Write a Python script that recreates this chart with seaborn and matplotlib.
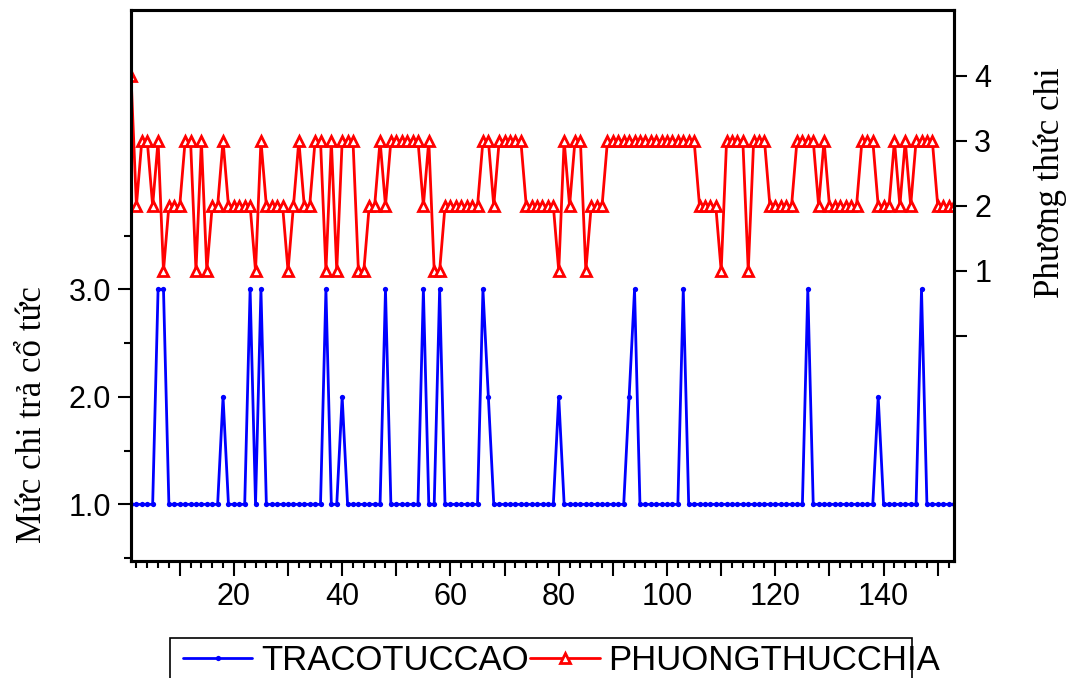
import matplotlib
matplotlib.use("Agg")
import matplotlib.pyplot as plt
from matplotlib.ticker import FixedLocator, FixedFormatter
from matplotlib.patches import Rectangle
import pandas as pd
import seaborn as sns

# Observation index (1..153)
obs = list(range(1, 154))

# Dividend payout level per observation
tracotuccao = [
    1, 1, 1, 1, 1, 3, 3, 1, 1, 1,
    1, 1, 1, 1, 1, 1, 1, 2, 1, 1,
    1, 1, 3, 1, 3, 1, 1, 1, 1, 1,
    1, 1, 1, 1, 1, 1, 3, 1, 1, 2,
    1, 1, 1, 1, 1, 1, 1, 3, 1, 1,
    1, 1, 1, 1, 3, 1, 1, 3, 1, 1,
    1, 1, 1, 1, 1, 3, 2, 1, 1, 1,
    1, 1, 1, 1, 1, 1, 1, 1, 1, 2,
    1, 1, 1, 1, 1, 1, 1, 1, 1, 1,
    1, 1, 2, 3, 1, 1, 1, 1, 1, 1,
    1, 1, 3, 1, 1, 1, 1, 1, 1, 1,
    1, 1, 1, 1, 1, 1, 1, 1, 1, 1,
    1, 1, 1, 1, 1, 3, 1, 1, 1, 1,
    1, 1, 1, 1, 1, 1, 1, 1, 2, 1,
    1, 1, 1, 1, 1, 1, 3, 1, 1, 1,
    1, 1, 1,
]

# Payment method per observation
phuongthucchia = [
    4, 2, 3, 3, 2, 3, 1, 2, 2, 2,
    3, 3, 1, 3, 1, 2, 2, 3, 2, 2,
    2, 2, 2, 1, 3, 2, 2, 2, 2, 1,
    2, 3, 2, 2, 3, 3, 1, 3, 1, 3,
    3, 3, 1, 1, 2, 2, 3, 2, 3, 3,
    3, 3, 3, 3, 2, 3, 1, 1, 2, 2,
    2, 2, 2, 2, 2, 3, 3, 2, 3, 3,
    3, 3, 3, 2, 2, 2, 2, 2, 2, 1,
    3, 2, 3, 3, 1, 2, 2, 2, 3, 3,
    3, 3, 3, 3, 3, 3, 3, 3, 3, 3,
    3, 3, 3, 3, 3, 2, 2, 2, 2, 1,
    3, 3, 3, 3, 1, 3, 3, 3, 2, 2,
    2, 2, 2, 3, 3, 3, 3, 2, 3, 2,
    2, 2, 2, 2, 2, 3, 3, 3, 2, 2,
    2, 3, 2, 3, 2, 3, 3, 3, 3, 2,
    2, 2, 2,
]

series_names = ["TRACOTUCCAO", "PHUONGTHUCCHIA"]
left_label = "Mức chi trả cổ tức"
right_label = "Phương thức chi"

left_major = [1.0, 2.0, 3.0]
left_major_labels = ["1.0", "2.0", "3.0"]
left_minor = [0.5, 1.5, 2.5, 3.5]
right_ticks = [0, 1, 2, 3, 4]
right_tick_labels = ["", "1", "2", "3", "4"]
x_major = list(range(10, 151, 10))
x_major_labels = [str(v) if v % 20 == 0 else "" for v in x_major]
x_minor = list(range(2, 153, 2))

sns.set_style("ticks")
plt.rcParams["font.family"] = ["Liberation Sans", "DejaVu Sans"]
for key in ("text.color", "axes.labelcolor", "xtick.color", "ytick.color",
            "xtick.labelcolor", "ytick.labelcolor"):
    plt.rcParams[key] = "black"

W, H = 1073, 678
fig = plt.figure(figsize=(W / 100, H / 100), dpi=100)
ax = fig.add_axes([131 / W, 1 - 561 / H, (954 - 131) / W, (561 - 10) / H])
ax2 = ax.twinx()

df = pd.DataFrame({"obs": obs,
                   series_names[0]: tracotuccao,
                   series_names[1]: phuongthucchia})

sns.lineplot(data=df, x="obs", y=series_names[0], ax=ax, color="#0000ff",
             lw=2.0, marker="o", markersize=3.8, markeredgewidth=0,
             legend=False)
sns.lineplot(data=df, x="obs", y=series_names[1], ax=ax2, color="#ff0000",
             lw=2.0, marker="^", markersize=7, markerfacecolor="white",
             markeredgecolor="#ff0000", markeredgewidth=2.0, legend=False)

ax.set_xlim(1, 153)
ax.set_ylim(0.473, 5.6)
ax2.set_ylim(-3.46, 5.01)
for a in (ax, ax2):
    a.set_xlabel("")
    a.set_ylabel("")
    for sp in a.spines.values():
        sp.set_linewidth(2.2)
        sp.set_color("black")

ax.xaxis.set_major_locator(FixedLocator(x_major))
ax.xaxis.set_major_formatter(FixedFormatter(x_major_labels))
ax.xaxis.set_minor_locator(FixedLocator(x_minor))
ax.tick_params(axis="x", which="major", length=11, width=1.5, labelsize=22,
               pad=4, colors="black")
ax.tick_params(axis="x", which="minor", length=5, width=1.5, colors="black")

ax.yaxis.set_major_locator(FixedLocator(left_major))
ax.yaxis.set_major_formatter(FixedFormatter(left_major_labels))
ax.yaxis.set_minor_locator(FixedLocator(left_minor))
ax.tick_params(axis="y", which="major", length=9.5, width=1.5, labelsize=22,
               pad=5, colors="black")
ax.tick_params(axis="y", which="minor", length=5, width=1.5, colors="black")

ax2.yaxis.set_major_locator(FixedLocator(right_ticks))
ax2.yaxis.set_major_formatter(FixedFormatter(right_tick_labels))
ax2.tick_params(axis="y", which="major", length=9.5, width=1.5, labelsize=22,
                pad=5, colors="black")

serif = ["Liberation Serif", "DejaVu Serif"]
fig.text(0.030, 0.3885, left_label, rotation=90, family=serif, fontsize=25,
         ha="center", va="center")
fig.text(0.979, 0.73, right_label, rotation=90, family=serif, fontsize=25,
         ha="center", va="center")

handles = [ax.lines[0], ax2.lines[0]]
fig.legend(handles, series_names, loc="center left",
           bbox_to_anchor=(183 / W, 1 - 661 / H), ncol=2, frameon=False,
           fontsize=25, handlelength=2.0, handletextpad=0.25,
           columnspacing=0.05, borderpad=0, borderaxespad=0, numpoints=1)
fig.add_artist(Rectangle((170 / W, -0.1), (912 - 170) / W, 0.1 + (1 - 638 / H),
                         transform=fig.transFigure, fill=False,
                         edgecolor="black", lw=1.2, clip_on=False))

fig.savefig("out.png", dpi=100)
